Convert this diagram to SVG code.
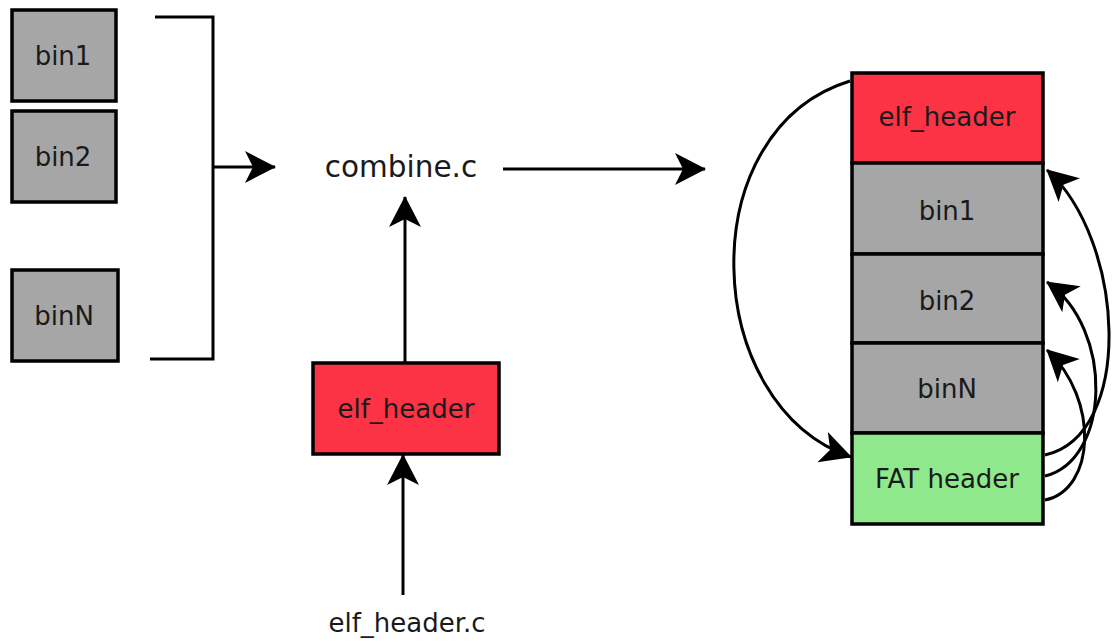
<svg xmlns="http://www.w3.org/2000/svg" width="1112" height="642" viewBox="0 0 1112 642">
  <style>
    .box { stroke: #000; stroke-width: 3.5; }
    .bin { fill: #a6a6a6; }
    .elf { fill: #fc3344; }
    .fat { fill: #8fe88c; }
    .lbl { font-family: "DejaVu Sans", sans-serif; font-size: 26px; fill: #1a1a1a; text-anchor: middle; }
    .wire { fill: none; stroke: #000; stroke-width: 3; }
  </style>
  <defs>
    <marker id="head" markerUnits="userSpaceOnUse" markerWidth="40" markerHeight="40" viewBox="-34 -20 40 40" refX="0" refY="0" orient="auto">
      <path d="M1,0 L-30,-16 L-22,0 L-30,16 Z" fill="#000"/>
    </marker>
  </defs>
  <rect width="1112" height="642" fill="#fff"/>

  <!-- input binaries -->
  <g id="bin1-in"><rect class="box bin" x="12" y="10" width="104" height="91"/><text class="lbl" x="63" y="65">bin1</text></g>
  <g id="bin2-in"><rect class="box bin" x="12" y="111" width="104" height="91"/><text class="lbl" x="63" y="166">bin2</text></g>
  <g id="binN-in"><rect class="box bin" x="12" y="270" width="106" height="91"/><text class="lbl" x="64" y="325">binN</text></g>

  <!-- tools -->
  <g id="combine"><text class="lbl" x="401" y="177" style="font-size:29.5px">combine.c</text></g>
  <g id="elf-mid"><rect class="box elf" x="313" y="363" width="186" height="91"/><text class="lbl" x="406" y="418">elf_header</text></g>
  <g id="elf-src"><text class="lbl" x="407" y="632">elf_header.c</text></g>

  <!-- output image layout -->
  <g id="out-elf"><rect class="box elf" x="852" y="73" width="191" height="90"/><text class="lbl" x="947" y="126">elf_header</text></g>
  <g id="out-bin1"><rect class="box bin" x="852" y="163" width="191" height="91"/><text class="lbl" x="947" y="220">bin1</text></g>
  <g id="out-bin2"><rect class="box bin" x="852" y="254" width="191" height="89"/><text class="lbl" x="947" y="310">bin2</text></g>
  <g id="out-binN"><rect class="box bin" x="852" y="343" width="191" height="90"/><text class="lbl" x="947" y="398">binN</text></g>
  <g id="out-fat"><rect class="box fat" x="852" y="433" width="191" height="91"/><text class="lbl" x="947" y="488">FAT header</text></g>

  <g id="connectors">
    <!-- bracket gathering the inputs -->
    <path class="wire" d="M155,17 H213 V359 H150"/>
    <path class="wire" d="M213,167 H275" marker-end="url(#head)"/>
    <path class="wire" d="M503,169 H705" marker-end="url(#head)"/>
    <path class="wire" d="M405,363 V197" marker-end="url(#head)"/>
    <path class="wire" d="M403,595 V455" marker-end="url(#head)"/>
    <!-- elf header points at FAT header -->
    <path class="wire" d="M850,81 C690,130 700,405 851,457" marker-end="url(#head)"/>
    <!-- FAT header entries point at each bin -->
    <path class="wire" d="M1045,455 C1135,435 1125,240 1047,170" marker-end="url(#head)"/>
    <path class="wire" d="M1045,476 C1110,460 1115,330 1047,282" marker-end="url(#head)"/>
    <path class="wire" d="M1045,500 C1095,490 1100,400 1047,350" marker-end="url(#head)"/>
  </g>
</svg>
